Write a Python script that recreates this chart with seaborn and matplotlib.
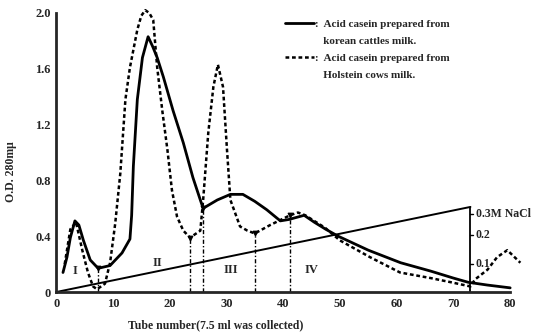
import matplotlib
matplotlib.use("Agg")
import matplotlib.pyplot as plt
import pandas as pd
import seaborn as sns
from matplotlib.lines import Line2D

# korean cattles milk (solid)
tube_korean = [1.2, 1.9, 2.5, 3.3, 4.0, 4.8, 6.0, 7.4, 9.5, 11.6, 13.0, 13.3,
               13.6, 14.3, 15.2, 16.2, 17.0, 17.8, 18.9, 20.6, 22.4, 24.1, 25.4,
               25.9, 28.4, 30.7, 32.9, 35.0, 37.1, 39.5, 41.0, 43.7, 45.5, 47.5,
               49.7, 55.0, 60.7, 66.0, 70.0, 72.6, 76.0, 80.0]
od_korean = [0.14, 0.25, 0.39, 0.51, 0.48, 0.37, 0.23, 0.17, 0.19, 0.28, 0.38,
             0.55, 0.90, 1.38, 1.68, 1.83, 1.76, 1.68, 1.54, 1.30, 1.07, 0.82,
             0.66, 0.60, 0.66, 0.70, 0.70, 0.65, 0.59, 0.51, 0.52, 0.55, 0.50,
             0.45, 0.40, 0.30, 0.21, 0.15, 0.10, 0.07, 0.05, 0.03]

# Holstein cows milk (dashed)
tube_holstein = [1.5, 2.5, 3.5, 4.6, 5.6, 6.5, 7.2, 8.6, 9.5, 10.4, 11.3, 12.2,
                 13.0, 14.3, 15.0, 15.7, 16.4, 17.1, 17.8, 18.7, 19.6, 20.4, 21.3,
                 22.4, 23.6, 25.4, 25.9, 26.8, 27.7, 28.5, 29.4, 30.1, 30.7, 32.4,
                 33.7, 35.0, 37.7, 41.2, 42.6, 43.9, 47.4, 50.0, 55.3, 60.6, 66.0,
                 69.6, 73.0, 73.8, 76.0, 77.7, 79.5, 81.8]
od_holstein = [0.20, 0.45, 0.50, 0.30, 0.14, 0.04, 0.02, 0.06, 0.21, 0.49, 0.85,
               1.38, 1.61, 1.88, 1.98, 2.02, 2.00, 1.95, 1.61, 1.30, 1.02, 0.73,
               0.54, 0.44, 0.39, 0.44, 0.66, 1.14, 1.47, 1.63, 1.47, 1.02, 0.66,
               0.47, 0.44, 0.42, 0.48, 0.55, 0.57, 0.55, 0.46, 0.37, 0.25, 0.14,
               0.10, 0.07, 0.04, 0.09, 0.16, 0.25, 0.30, 0.21]

# NaCl gradient (0 -> 0.3 M over tubes 0-73)
tube_gradient = [0, 73]
od_gradient = [0.0, 0.61]
nacl_ticks = [0.1, 0.2, 0.3]
nacl_labels = ["0.1", "0.2", "0.3M NaCl"]

# fraction boundaries
cut_tubes = [7.4, 23.6, 25.9, 35.0, 41.2]
cut_tops = [0.17, 0.39, 0.60, 0.42, 0.55]
frac_names = ["I", "II", "III", "IV"]
frac_tube = [3.3, 17.8, 30.7, 45.0]
frac_od = [0.15, 0.21, 0.16, 0.16]

sns.set_style("white")
plt.rcParams["font.family"] = ["Liberation Serif", "DejaVu Serif"]
plt.rcParams["font.weight"] = "bold"

df_k = pd.DataFrame({"tube": tube_korean, "od": od_korean})
df_h = pd.DataFrame({"tube": tube_holstein, "od": od_holstein})
df_g = pd.DataFrame({"tube": tube_gradient, "od": od_gradient})

fig = plt.figure(figsize=(5.35, 3.33), dpi=100)
ax = fig.add_axes([0.105, 0.123, 0.891, 0.859])

sns.lineplot(data=df_k, x="tube", y="od", ax=ax, color="black", lw=2.0,
             estimator=None, sort=False)
sns.lineplot(data=df_h, x="tube", y="od", ax=ax, color="black", lw=1.8,
             ls=(0, (1.5, 1.1)), estimator=None, sort=False)
sns.lineplot(data=df_g, x="tube", y="od", ax=ax, color="black", lw=1.4,
             estimator=None)

# NaCl scale on the right
ax.vlines(tube_gradient[-1], 0, od_gradient[-1], color="black", lw=1.3)
for v, lab in zip(nacl_ticks, nacl_labels):
    yy = v / nacl_ticks[-1] * od_gradient[-1] - 0.05 * (v == nacl_ticks[-1])
    ax.plot([tube_gradient[-1], tube_gradient[-1] + 0.5], [yy, yy], color="black", lw=1)
    ax.text(tube_gradient[-1] + 0.9, yy, lab, fontsize=8.5, va="center", ha="left")

# fraction cuts
ax.vlines(cut_tubes, 0, cut_tops, color="black", lw=1.0, ls=(0, (3, 1.5, 1, 1.5)))
ax.scatter(cut_tubes, cut_tops, marker="v", s=10, color="black", zorder=5)
for name, xx, yy in zip(frac_names, frac_tube, frac_od):
    ax.text(xx, yy, name, fontsize=9, ha="center", va="center")

ax.set_xlim(0, 84)
ax.set_ylim(0, 2.05)
ax.set_xticks(range(0, 81, 10))
ax.set_yticks([0, 0.4, 0.8, 1.2, 1.6, 2.0])
ax.set_yticklabels(["0", "0.4", "0.8", "1.2", "1.6", "2.0"])
ax.tick_params(axis="both", direction="inout", length=4, width=1.2,
               labelsize=9, pad=2)
for s in ["top", "right"]:
    ax.spines[s].set_visible(False)
for s in ["left", "bottom"]:
    ax.spines[s].set_linewidth(2.0)
ax.spines["left"].set_bounds(0, 2.0)
ax.spines["bottom"].set_bounds(0, 80)

ax.set_xlabel("Tube number(7.5 ml was collected)", fontsize=8.5, fontweight="bold")
ax.xaxis.set_label_coords(0.334, -0.095)
ax.set_ylabel("O.D. 280m\u03bc", fontsize=8.5, fontweight="bold")
ax.yaxis.set_label_coords(-0.083, 0.42)

handles = [Line2D([], [], color="black", lw=2.0),
           Line2D([], [], color="none"),
           Line2D([], [], color="black", lw=1.8, ls=(0, (1.5, 1.1))),
           Line2D([], [], color="none")]
labels = [":  Acid casein prepared from", "   korean cattles milk.",
          ":  Acid casein prepared from", "   Holstein cows milk."]
ax.legend(handles, labels, loc="upper left", bbox_to_anchor=(0.47, 0.97),
          frameon=False, fontsize=8, handlelength=2.6, handletextpad=0.1,
          labelspacing=0.65, borderaxespad=0)

fig.savefig("out.png", dpi=100)
